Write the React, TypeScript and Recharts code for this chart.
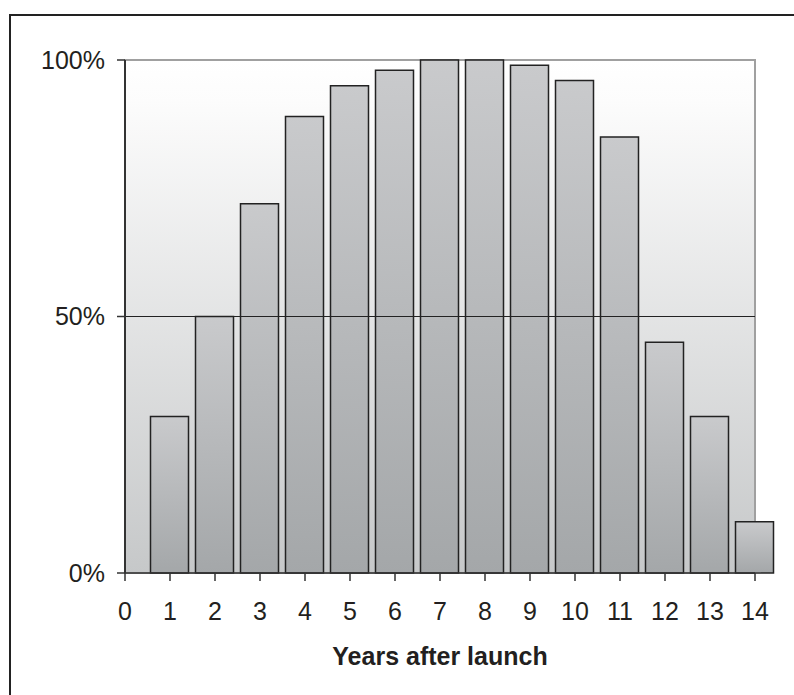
import {
  BarChart,
  Bar,
  XAxis,
  YAxis,
  ReferenceArea,
  ReferenceLine,
} from 'recharts';

const YEARS = [1, 2, 3, 4, 5, 6, 7, 8, 9, 10, 11, 12, 13, 14];
const SHARE = [30.5, 50, 72, 89, 95, 98, 100, 100, 99, 96, 85, 45, 30.5, 10];
const X_TICKS = [0, 1, 2, 3, 4, 5, 6, 7, 8, 9, 10, 11, 12, 13, 14];
const Y_TICKS = [0, 50, 100];

const data = YEARS.map((year, i) => ({ year, share: SHARE[i] }));

const FONT = '"Liberation Sans", Arial, sans-serif';

export default function App() {
  return (
    <div
      style={{
        position: 'fixed',
        left: 0,
        top: 0,
        width: 794,
        height: 695,
        overflow: 'hidden',
        background: '#fff',
        fontFamily: FONT,
      }}
    >
      {/* outer frame: only top and left edges fall inside the page */}
      <div style={{ position: 'absolute', left: 9, top: 14, width: 785, height: 2, background: '#222' }} />
      <div style={{ position: 'absolute', left: 9, top: 14, width: 2, height: 681, background: '#222' }} />
      <BarChart
        width={794}
        height={695}
        data={data}
        margin={{ top: 60, right: 39, left: 0, bottom: 30 }}
      >
        <defs>
          <linearGradient id="plotBg" x1="0" y1="0" x2="0" y2="1">
            <stop offset="0%" stopColor="#ffffff" />
            <stop offset="8%" stopColor="#fcfcfc" />
            <stop offset="100%" stopColor="#c6c8c9" />
          </linearGradient>
          <linearGradient id="barFill" x1="0" y1="0" x2="0" y2="1">
            <stop offset="0%" stopColor="#c9cacc" />
            <stop offset="100%" stopColor="#a4a7a9" />
          </linearGradient>
        </defs>
        <ReferenceArea
          x1={0}
          x2={14}
          y1={0}
          y2={100}
          fill="url(#plotBg)"
          fillOpacity={1}
          stroke="#a0a0a0"
          strokeWidth={2}
        />
        <XAxis
          type="number"
          dataKey="year"
          domain={[0, 14]}
          ticks={X_TICKS}
          interval={0}
          height={92}
          tickSize={8}
          tickMargin={21}
          axisLine={{ stroke: '#333', strokeWidth: 1.5 }}
          tickLine={{ stroke: '#333', strokeWidth: 1.5 }}
          tick={{ fill: '#231f20', fontSize: 25, fontFamily: FONT }}
          label={{
            value: 'Years after launch',
            position: 'insideBottom',
            offset: 0,
            style: { fill: '#231f20', fontSize: 25, fontWeight: 'bold', fontFamily: FONT },
          }}
        />
        <YAxis
          type="number"
          domain={[0, 100]}
          ticks={Y_TICKS}
          width={125}
          tickSize={8}
          tickMargin={12}
          tickFormatter={(v) => `${v}%`}
          axisLine={{ stroke: '#333', strokeWidth: 2 }}
          tickLine={{ stroke: '#333', strokeWidth: 1.5 }}
          tick={{ fill: '#231f20', fontSize: 25, fontFamily: FONT }}
        />
        <Bar
          dataKey="share"
          barSize={38}
          fill="url(#barFill)"
          stroke="#222"
          strokeWidth={1.5}
          isAnimationActive={false}
        />
        <ReferenceLine y={50} stroke="#222" strokeWidth={1} />
        <ReferenceLine
          segment={[{ x: 14, y: 0 }, { x: 14.13, y: 0 }]}
          stroke="#555"
          strokeWidth={1.5}
          ifOverflow="visible"
        />
      </BarChart>
    </div>
  );
}
